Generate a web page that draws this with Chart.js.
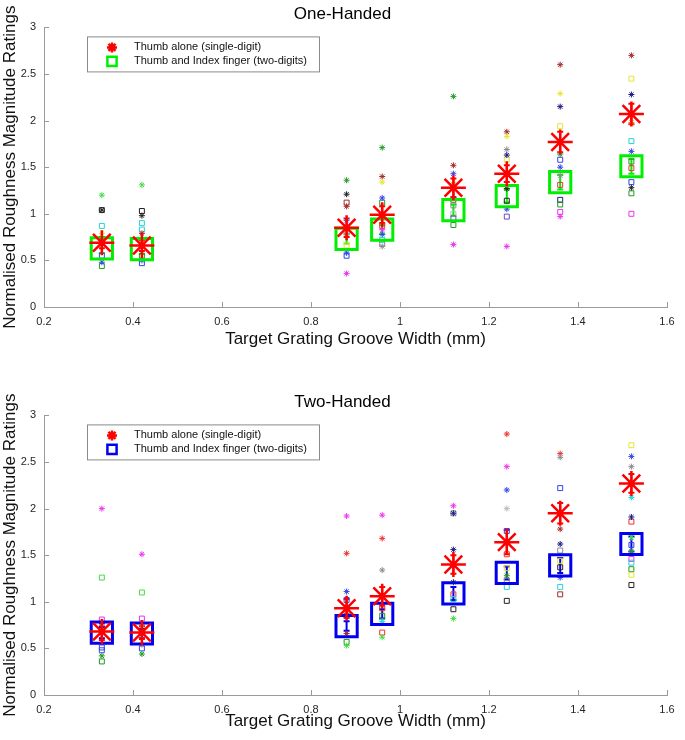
<!DOCTYPE html>
<html>
<head>
<meta charset="utf-8">
<script src="https://cdn.jsdelivr.net/npm/chart.js@4.4.1/dist/chart.umd.min.js"></script>
<style>
  body { margin: 0; background: #fff; }
  canvas { display: block; }
</style>
</head>
<body>
<canvas id="oneHanded" width="685" height="360"></canvas>
<canvas id="twoHanded" width="685" height="380"></canvas>
<script>
// groove widths (mm)
const grooveWidths = [0.33, 0.42, 0.88, 0.96, 1.12, 1.24, 1.36, 1.52];
const xTicks = [0.2, 0.4, 0.6, 0.8, 1, 1.2, 1.4, 1.6];
const yTicks = [0, 0.5, 1, 1.5, 2, 2.5, 3];

// group means and standard errors
const oneThumbMean = [0.69, 0.66, 0.85, 0.99, 1.28, 1.43, 1.77, 2.07];
const oneThumbErr  = [0.06, 0.06, 0.10, 0.09, 0.10, 0.09, 0.11, 0.11];
const oneTwoMean   = [0.63, 0.62, 0.73, 0.83, 1.04, 1.19, 1.34, 1.51];
const oneTwoErr    = [0.05, 0.05, 0.05, 0.05, 0.06, 0.07, 0.08, 0.08];
const twoThumbMean = [0.68, 0.67, 0.93, 1.06, 1.40, 1.64, 1.95, 2.27];
const twoThumbErr  = [0.09, 0.07, 0.10, 0.10, 0.10, 0.13, 0.11, 0.10];
const twoTwoMean   = [0.67, 0.66, 0.74, 0.87, 1.09, 1.31, 1.39, 1.62];
const twoTwoErr    = [0.06, 0.05, 0.05, 0.05, 0.07, 0.07, 0.08, 0.08];

// individual participants, one-handed, thumb alone
const oneThumbPts = [
  [0.33, 1.20], [0.33, 1.04], [0.33, 0.79], [0.33, 0.72], [0.33, 0.48],
  [0.42, 1.31], [0.42, 0.98], [0.42, 0.79], [0.42, 0.72], [0.42, 0.50],
  [0.88, 1.36], [0.88, 1.21], [0.88, 1.08], [0.88, 0.93], [0.88, 0.58], [0.88, 0.36],
  [0.96, 1.71], [0.96, 1.40], [0.96, 1.34], [0.96, 1.17], [0.96, 0.83], [0.96, 0.78], [0.96, 0.65],
  [1.12, 2.26], [1.12, 1.52], [1.12, 1.43], [1.12, 1.32], [1.12, 0.67],
  [1.24, 1.88], [1.24, 1.83], [1.24, 1.69], [1.24, 1.63], [1.24, 1.27], [1.24, 1.05], [1.24, 0.65],
  [1.36, 2.60], [1.36, 2.29], [1.36, 2.15], [1.36, 1.64], [1.36, 1.50], [1.36, 1.41], [1.36, 0.97],
  [1.52, 2.70], [1.52, 2.28], [1.52, 1.98], [1.52, 1.67], [1.52, 1.28]
];
const oneThumbCols = [
  'lime', 'black', 'yellow', 'brown', 'blue',
  'lime', 'black', 'brown', 'orange', 'blue',
  'green', 'black', 'brown', 'blue', 'blue', 'magenta',
  'green', 'brown', 'yellow', 'blue', 'magenta', 'blue', 'grey',
  'green', 'brown', 'blue', 'orange', 'magenta',
  'brown', 'yellow', 'grey', 'navy', 'black', 'blue', 'magenta',
  'brown', 'yellow', 'navy', 'green', 'blue', 'grey', 'magenta',
  'brown', 'navy', 'orange', 'blue', 'black'
];
// one-handed, thumb and index finger
const oneTwoPts = [
  [0.33, 1.04], [0.33, 0.87], [0.33, 0.55], [0.33, 0.44],
  [0.42, 1.03], [0.42, 0.90], [0.42, 0.83], [0.42, 0.55], [0.42, 0.47],
  [0.88, 1.12], [0.88, 0.80], [0.88, 0.66], [0.88, 0.55],
  [0.96, 1.12], [0.96, 0.87], [0.96, 0.72], [0.96, 0.68],
  [1.12, 1.15], [1.12, 1.09], [1.12, 1.00], [1.12, 0.95], [1.12, 0.88],
  [1.24, 1.58], [1.24, 1.14], [1.24, 0.97],
  [1.36, 1.94], [1.36, 1.58], [1.36, 1.31], [1.36, 1.15], [1.36, 1.10], [1.36, 1.02],
  [1.52, 2.45], [1.52, 1.78], [1.52, 1.56], [1.52, 1.49], [1.52, 1.34], [1.52, 1.22], [1.52, 1.00]
];
const oneTwoCols = [
  'black', 'cyan', 'blue', 'green',
  'black', 'cyan', 'cyan', 'green', 'blue',
  'brown', 'grey', 'yellow', 'blue',
  'green', 'red', 'cyan', 'grey',
  'brown', 'grey', 'silver', 'purple', 'green',
  'yellow', 'black', 'purple',
  'yellow', 'blue', 'red', 'navy', 'green', 'magenta',
  'yellow', 'cyan', 'green', 'red', 'blue', 'green', 'magenta'
];

// individual participants, two-handed, thumb alone
const twoThumbPts = [
  [0.33, 2.00], [0.33, 0.75], [0.33, 0.42],
  [0.42, 1.51], [0.42, 0.75], [0.42, 0.54], [0.42, 0.44],
  [0.88, 1.92], [0.88, 1.52], [0.88, 1.11], [0.88, 0.66], [0.88, 0.53],
  [0.96, 1.93], [0.96, 1.68], [0.96, 1.34], [0.96, 0.79], [0.96, 0.62],
  [1.12, 2.03], [1.12, 1.95], [1.12, 1.56], [1.12, 1.21], [1.12, 0.82],
  [1.24, 2.80], [1.24, 2.45], [1.24, 2.20], [1.24, 2.00], [1.24, 1.28],
  [1.36, 2.59], [1.36, 2.55], [1.36, 1.78], [1.36, 1.62], [1.36, 1.26],
  [1.52, 2.56], [1.52, 2.45], [1.52, 2.12], [1.52, 1.91], [1.52, 1.69], [1.52, 1.54]
];
const twoThumbCols = [
  'magenta', 'brown', 'green',
  'magenta', 'orange', 'grey', 'green',
  'magenta', 'red', 'blue', 'brown', 'lime',
  'magenta', 'red', 'grey', 'cyan', 'lime',
  'magenta', 'navy', 'navy', 'black', 'lime',
  'red', 'magenta', 'blue', 'silver', 'green',
  'red', 'grey', 'brown', 'navy', 'blue',
  'blue', 'grey', 'cyan', 'navy', 'lime', 'green'
];
// two-handed, thumb and index finger
const twoTwoPts = [
  [0.33, 1.26], [0.33, 0.81], [0.33, 0.51], [0.33, 0.48], [0.33, 0.36],
  [0.42, 1.10], [0.42, 0.82], [0.42, 0.50],
  [0.88, 1.02], [0.88, 0.85], [0.88, 0.57],
  [0.96, 0.93], [0.96, 0.85], [0.96, 0.67],
  [1.12, 1.95], [1.12, 1.08], [1.12, 1.03], [1.12, 0.92],
  [1.24, 1.76], [1.24, 1.51], [1.24, 1.36], [1.24, 1.23], [1.24, 1.16], [1.24, 1.01],
  [1.36, 2.22], [1.36, 1.55], [1.36, 1.44], [1.36, 1.37], [1.36, 1.16], [1.36, 1.08],
  [1.52, 2.68], [1.52, 1.86], [1.52, 1.61], [1.52, 1.46], [1.52, 1.42], [1.52, 1.35], [1.52, 1.29], [1.52, 1.18]
];
const twoTwoCols = [
  'lime', 'magenta', 'blue', 'blue', 'green',
  'lime', 'magenta', 'blue',
  'blue', 'brown', 'green',
  'red', 'green', 'red',
  'grey', 'red', 'cyan', 'black',
  'blue', 'red', 'yellow', 'grey', 'cyan', 'black',
  'blue', 'grey', 'yellow', 'black', 'cyan', 'brown',
  'yellow', 'red', 'blue', 'magenta', 'cyan', 'green', 'yellow', 'black'
];

const palette = {
  lime: '#44dd44', green: '#229922', black: '#222222', yellow: '#e6e62a',
  blue: '#3344ee', navy: '#1a1a88', brown: '#a52a2a', red: '#ee3333',
  magenta: '#ee33ee', cyan: '#22d5d5', grey: '#8c8c8c', silver: '#bbbbbb',
  orange: '#e08a1e', purple: '#6a4cc0'
};

const axisGrey = '#9a9a9a';
const fontFam = '"Liberation Sans", Arial, Helvetica, sans-serif';

function toXY(pts) {
  return pts.map(p => ({ x: p[0], y: p[1] }));
}
function meanXY(vals) {
  return grooveWidths.map((w, i) => ({ x: w, y: vals[i] }));
}

// inward tick marks on bottom and left axes
const innerTicks = {
  id: 'innerTicks',
  afterDraw(chart) {
    const { ctx, chartArea, scales } = chart;
    ctx.save();
    ctx.strokeStyle = axisGrey;
    ctx.lineWidth = 1;
    ctx.beginPath();
    xTicks.forEach(v => {
      const px = Math.round(scales.x.getPixelForValue(v)) + 0.5;
      ctx.moveTo(px, chartArea.bottom);
      ctx.lineTo(px, chartArea.bottom - 5);
    });
    yTicks.forEach(v => {
      const py = Math.round(scales.y.getPixelForValue(v)) + 0.5;
      ctx.moveTo(chartArea.left, py);
      ctx.lineTo(chartArea.left + 5, py);
    });
    ctx.stroke();
    ctx.restore();
  }
};

// vertical error bars behind the group means
const errorBars = {
  id: 'errorBars',
  beforeDatasetsDraw(chart, args, opts) {
    const { ctx, scales } = chart;
    ctx.save();
    ctx.lineWidth = 2;
    opts.sets.forEach(set => {
      ctx.strokeStyle = set.color;
      ctx.beginPath();
      grooveWidths.forEach((w, i) => {
        const px = scales.x.getPixelForValue(w);
        const top = scales.y.getPixelForValue(set.mean[i] + set.err[i]);
        const bot = scales.y.getPixelForValue(set.mean[i] - set.err[i]);
        ctx.moveTo(px, top); ctx.lineTo(px, bot);
        ctx.moveTo(px - 3, top); ctx.lineTo(px + 3, top);
        ctx.moveTo(px - 3, bot); ctx.lineTo(px + 3, bot);
      });
      ctx.stroke();
    });
    ctx.restore();
  }
};

// boxed legend in the upper left of the axes
const boxLegend = {
  id: 'boxLegend',
  afterDraw(chart, args, opts) {
    const { ctx, chartArea } = chart;
    const bx = chartArea.left + 43, by = chartArea.top + 9;
    const bw = 232, bh = 35;
    ctx.save();
    ctx.fillStyle = '#fff';
    ctx.fillRect(bx, by, bw, bh);
    ctx.strokeStyle = '#8a8a8a';
    ctx.lineWidth = 1;
    ctx.strokeRect(bx + 0.5, by + 0.5, bw, bh);
    ctx.strokeStyle = '#ff0000';
    ctx.fillStyle = '#ff0000';
    ctx.lineWidth = 2.5;
    Chart.helpers.drawPoint(ctx, {
      pointStyle: 'star', radius: 5, borderWidth: 2.5
    }, bx + 25, by + 11);
    ctx.strokeStyle = opts.squareColor;
    ctx.fillStyle = 'rgba(0,0,0,0)';
    ctx.lineWidth = 2.5;
    Chart.helpers.drawPoint(ctx, {
      pointStyle: 'rect', radius: 6.5, borderWidth: 2.5
    }, bx + 25, by + 25);
    ctx.fillStyle = '#111';
    ctx.font = '11px ' + fontFam;
    ctx.textBaseline = 'middle';
    ctx.fillText('Thumb alone (single-digit)', bx + 47, by + 11);
    ctx.fillText('Thumb and Index finger (two-digits)', bx + 47, by + 25);
    ctx.restore();
  }
};

function makeChart(id, title, thumbMean, thumbErr, twoMean, twoErr, thumbPts, thumbCols, twoPts, twoCols, squareColor, layout) {
  const ctx = document.getElementById(id).getContext('2d');
  return new Chart(ctx, {
    type: 'scatter',
    data: {
      datasets: [
        {
          label: 'Thumb alone (single-digit)',
          data: meanXY(thumbMean),
          pointStyle: 'star',
          pointRadius: 12.5,
          pointBorderWidth: 2.5,
          borderColor: '#ff0000',
          backgroundColor: '#ff0000'
        },
        {
          label: 'Thumb and Index finger (two-digits)',
          data: meanXY(twoMean),
          pointStyle: 'rect',
          pointRadius: 15,
          pointBorderWidth: 3,
          borderColor: squareColor,
          backgroundColor: 'rgba(0,0,0,0)'
        },
        {
          label: 'individual thumb',
          data: toXY(thumbPts),
          pointStyle: 'star',
          pointRadius: 3,
          pointBorderWidth: 1,
          borderColor: thumbCols.map(c => palette[c]),
          backgroundColor: thumbCols.map(c => palette[c])
        },
        {
          label: 'individual two',
          data: toXY(twoPts),
          pointStyle: 'rect',
          pointRadius: 3.5,
          pointBorderWidth: 1,
          borderColor: twoCols.map(c => palette[c]),
          backgroundColor: 'rgba(0,0,0,0)'
        }
      ]
    },
    options: {
      responsive: false,
      animation: false,
      events: [],
      layout: { padding: { left: 0, right: 0, top: 0, bottom: 0 } },
      plugins: {
        legend: { display: false },
        tooltip: { enabled: false },
        boxLegend: { squareColor: squareColor },
        errorBars: {
          sets: [
            { mean: twoMean, err: twoErr, color: squareColor },
            { mean: thumbMean, err: thumbErr, color: '#ff0000' }
          ]
        },
        title: {
          display: true,
          text: title,
          color: '#000',
          font: { family: fontFam, size: 17, weight: 'normal' },
          padding: { top: layout.titleTop, bottom: layout.titleBottom }
        }
      },
      scales: {
        x: {
          type: 'linear',
          min: 0.2,
          max: 1.6,
          afterBuildTicks: s => { s.ticks = xTicks.map(v => ({ value: v })); },
          afterFit: s => { s.height = layout.xHeight; },
          grid: { display: false },
          border: { display: true, color: axisGrey, width: 1 },
          ticks: {
            color: '#262626',
            padding: 0,
            maxRotation: 0,
            font: { family: fontFam, size: 11 },
            callback: v => String(Math.round(v * 10) / 10)
          },
          title: {
            display: true,
            text: 'Target Grating Groove Width (mm)',
            color: '#111',
            font: { family: fontFam, size: 17 },
            padding: { top: layout.xTitlePad, bottom: layout.xTitlePad }
          }
        },
        y: {
          type: 'linear',
          min: 0,
          max: 3,
          afterBuildTicks: s => { s.ticks = yTicks.map(v => ({ value: v })); },
          afterFit: s => { s.width = 44; },
          grid: { display: false },
          border: { display: true, color: axisGrey, width: 1 },
          ticks: {
            color: '#262626',
            padding: 0,
            font: { family: fontFam, size: 11 },
            callback: v => String(v)
          },
          title: {
            display: true,
            text: 'Normalised Roughness Magnitude Ratings',
            color: '#111',
            font: { family: fontFam, size: 17 },
            padding: { top: 0, bottom: 0 }
          }
        }
      }
    },
    plugins: [innerTicks, errorBars, boxLegend]
  });
}

makeChart('oneHanded', 'One-Handed', oneThumbMean, oneThumbErr, oneTwoMean, oneTwoErr,
  oneThumbPts, oneThumbCols, oneTwoPts, oneTwoCols, '#00ee00',
  { titleTop: 4, titleBottom: 3, xHeight: 53, xTitlePad: 10 });

makeChart('twoHanded', 'Two-Handed', twoThumbMean, twoThumbErr, twoTwoMean, twoTwoErr,
  twoThumbPts, twoThumbCols, twoTwoPts, twoTwoCols, '#0000ee',
  { titleTop: 32, titleBottom: 3, xHeight: 45, xTitlePad: 8 });
</script>
</body>
</html>
